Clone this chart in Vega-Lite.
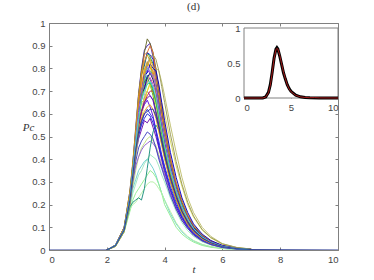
{
"$schema":"https://vega.github.io/schema/vega-lite/v6.json",
"width":289,"height":227,
"autosize":{"type":"none"},
"padding":{"left":49,"top":23,"right":36,"bottom":30},
"background":"white",
"config":{"view":{"stroke":"#808080","strokeWidth":1},"axis":{"grid":false,"domainColor":"#808080","tickColor":"#808080","labelColor":"#444444","labelFont":"Liberation Sans","labelFontSize":9.5,"labelExpr":"'' + datum.value"}},
"title":{"text":"(d)","font":"Liberation Serif","fontSize":11,"fontWeight":"normal","color":"#333333","offset":6},
"datasets":{
"frame":[{"x0":0,"x1":10,"y0":0,"y1":1}],
"mean":[{"t":0,"v":0},{"t":2,"v":0},{"t":2.3,"v":0.015},{"t":2.6,"v":0.08},{"t":2.8,"v":0.19},{"t":3,"v":0.37},{"t":3.2,"v":0.57},{"t":3.4,"v":0.7},{"t":3.5,"v":0.72},{"t":3.6,"v":0.7},{"t":3.8,"v":0.6},{"t":4,"v":0.48},{"t":4.2,"v":0.36},{"t":4.4,"v":0.27},{"t":4.6,"v":0.19},{"t":4.8,"v":0.135},{"t":5,"v":0.095},{"t":5.5,"v":0.04},{"t":6,"v":0.017},{"t":6.5,"v":0.007},{"t":7,"v":0.003},{"t":8,"v":0},{"t":10,"v":0}],
"red":[{"t":0,"v":0},{"t":2,"v":0},{"t":2.3,"v":0.012},{"t":2.6,"v":0.075},{"t":2.8,"v":0.18},{"t":3,"v":0.36},{"t":3.2,"v":0.56},{"t":3.4,"v":0.69},{"t":3.5,"v":0.71},{"t":3.6,"v":0.7},{"t":3.8,"v":0.61},{"t":4,"v":0.49},{"t":4.2,"v":0.37},{"t":4.4,"v":0.275},{"t":4.6,"v":0.19},{"t":4.8,"v":0.13},{"t":5,"v":0.09},{"t":5.5,"v":0.038},{"t":6,"v":0.016},{"t":6.5,"v":0.008},{"t":7,"v":0.004},{"t":7.5,"v":0.006},{"t":8,"v":0.002},{"t":10,"v":0}],
"main":[
{"s":"A","t":2,"v":0},{"s":"A","t":2.3,"v":0.021},{"s":"A","t":2.6,"v":0.097},{"s":"A","t":2.8,"v":0.25},{"s":"A","t":2.9,"v":0.36},{"s":"A","t":3,"v":0.51},{"s":"A","t":3.1,"v":0.64},{"s":"A","t":3.2,"v":0.77},{"s":"A","t":3.3,"v":0.81},{"s":"A","t":3.4,"v":0.87},{"s":"A","t":3.5,"v":0.85},{"s":"A","t":3.6,"v":0.82},{"s":"A","t":3.7,"v":0.78},{"s":"A","t":3.8,"v":0.66},{"s":"A","t":3.9,"v":0.6},{"s":"A","t":4,"v":0.49},{"s":"A","t":4.2,"v":0.38},{"s":"A","t":4.4,"v":0.26},{"s":"A","t":4.6,"v":0.2},{"s":"A","t":4.8,"v":0.135},{"s":"A","t":5,"v":0.1},{"s":"A","t":5.3,"v":0.058},{"s":"A","t":5.6,"v":0.037},{"s":"A","t":6,"v":0.017},{"s":"A","t":6.5,"v":0.007},{"s":"A","t":7,"v":0.002},
{"s":"B","t":2,"v":0},{"s":"B","t":2.3,"v":0.019},{"s":"B","t":2.6,"v":0.09},{"s":"B","t":2.8,"v":0.23},{"s":"B","t":2.9,"v":0.37},{"s":"B","t":3,"v":0.46},{"s":"B","t":3.1,"v":0.62},{"s":"B","t":3.2,"v":0.7},{"s":"B","t":3.3,"v":0.79},{"s":"B","t":3.4,"v":0.83},{"s":"B","t":3.5,"v":0.8},{"s":"B","t":3.6,"v":0.79},{"s":"B","t":3.7,"v":0.71},{"s":"B","t":3.8,"v":0.66},{"s":"B","t":3.9,"v":0.57},{"s":"B","t":4,"v":0.51},{"s":"B","t":4.2,"v":0.37},{"s":"B","t":4.4,"v":0.28},{"s":"B","t":4.6,"v":0.2},{"s":"B","t":4.8,"v":0.15},{"s":"B","t":5,"v":0.1},{"s":"B","t":5.3,"v":0.062},{"s":"B","t":5.6,"v":0.036},{"s":"B","t":6,"v":0.018},{"s":"B","t":6.5,"v":0.007},{"s":"B","t":7,"v":0.002},
{"s":"C","t":2,"v":0},{"s":"C","t":2.3,"v":0.02},{"s":"C","t":2.6,"v":0.093},{"s":"C","t":2.8,"v":0.24},{"s":"C","t":2.9,"v":0.35},{"s":"C","t":3,"v":0.5},{"s":"C","t":3.1,"v":0.59},{"s":"C","t":3.2,"v":0.69},{"s":"C","t":3.3,"v":0.72},{"s":"C","t":3.4,"v":0.77},{"s":"C","t":3.5,"v":0.75},{"s":"C","t":3.6,"v":0.71},{"s":"C","t":3.7,"v":0.66},{"s":"C","t":3.8,"v":0.57},{"s":"C","t":3.9,"v":0.52},{"s":"C","t":4,"v":0.44},{"s":"C","t":4.2,"v":0.33},{"s":"C","t":4.4,"v":0.25},{"s":"C","t":4.6,"v":0.17},{"s":"C","t":4.8,"v":0.125},{"s":"C","t":5,"v":0.088},{"s":"C","t":5.3,"v":0.052},{"s":"C","t":5.6,"v":0.032},{"s":"C","t":6,"v":0.015},{"s":"C","t":6.5,"v":0.006},{"s":"C","t":7,"v":0.002},
{"s":"D","t":2,"v":0},{"s":"D","t":2.3,"v":0.018},{"s":"D","t":2.6,"v":0.087},{"s":"D","t":2.8,"v":0.22},{"s":"D","t":2.9,"v":0.34},{"s":"D","t":3,"v":0.45},{"s":"D","t":3.1,"v":0.57},{"s":"D","t":3.2,"v":0.6},{"s":"D","t":3.3,"v":0.67},{"s":"D","t":3.4,"v":0.7},{"s":"D","t":3.5,"v":0.68},{"s":"D","t":3.6,"v":0.66},{"s":"D","t":3.7,"v":0.6},{"s":"D","t":3.8,"v":0.55},{"s":"D","t":3.9,"v":0.47},{"s":"D","t":4,"v":0.42},{"s":"D","t":4.2,"v":0.31},{"s":"D","t":4.4,"v":0.23},{"s":"D","t":4.6,"v":0.17},{"s":"D","t":4.8,"v":0.12},{"s":"D","t":5,"v":0.083},{"s":"D","t":5.3,"v":0.05},{"s":"D","t":5.6,"v":0.03},{"s":"D","t":6,"v":0.014},{"s":"D","t":6.5,"v":0.005},{"s":"D","t":7,"v":0.002},
{"s":"E","t":2,"v":0},{"s":"E","t":2.3,"v":0.02},{"s":"E","t":2.6,"v":0.088},{"s":"E","t":2.8,"v":0.21},{"s":"E","t":2.9,"v":0.32},{"s":"E","t":3,"v":0.42},{"s":"E","t":3.1,"v":0.49},{"s":"E","t":3.2,"v":0.53},{"s":"E","t":3.3,"v":0.57},{"s":"E","t":3.4,"v":0.56},{"s":"E","t":3.5,"v":0.58},{"s":"E","t":3.6,"v":0.54},{"s":"E","t":3.7,"v":0.5},{"s":"E","t":3.8,"v":0.45},{"s":"E","t":3.9,"v":0.4},{"s":"E","t":4,"v":0.34},{"s":"E","t":4.2,"v":0.26},{"s":"E","t":4.4,"v":0.19},{"s":"E","t":4.6,"v":0.14},{"s":"E","t":4.8,"v":0.1},{"s":"E","t":5,"v":0.07},{"s":"E","t":5.3,"v":0.042},{"s":"E","t":5.6,"v":0.026},{"s":"E","t":6,"v":0.012},{"s":"E","t":6.5,"v":0.005},{"s":"E","t":7,"v":0.002},
{"s":"F","t":2,"v":0},{"s":"F","t":2.3,"v":0.017},{"s":"F","t":2.6,"v":0.08},{"s":"F","t":2.8,"v":0.18},{"s":"F","t":2.9,"v":0.25},{"s":"F","t":3,"v":0.29},{"s":"F","t":3.1,"v":0.33},{"s":"F","t":3.2,"v":0.35},{"s":"F","t":3.3,"v":0.38},{"s":"F","t":3.4,"v":0.4},{"s":"F","t":3.5,"v":0.42},{"s":"F","t":3.6,"v":0.41},{"s":"F","t":3.7,"v":0.4},{"s":"F","t":3.8,"v":0.37},{"s":"F","t":3.9,"v":0.33},{"s":"F","t":4,"v":0.3},{"s":"F","t":4.2,"v":0.23},{"s":"F","t":4.4,"v":0.17},{"s":"F","t":4.6,"v":0.12},{"s":"F","t":4.8,"v":0.085},{"s":"F","t":5,"v":0.06},{"s":"F","t":5.3,"v":0.036},{"s":"F","t":5.6,"v":0.022},{"s":"F","t":6,"v":0.01},{"s":"F","t":6.5,"v":0.004},{"s":"F","t":7,"v":0.001},
{"s":"G","t":2,"v":0},{"s":"G","t":2.3,"v":0.016},{"s":"G","t":2.6,"v":0.08},{"s":"G","t":2.8,"v":0.2},{"s":"G","t":2.9,"v":0.3},{"s":"G","t":3,"v":0.41},{"s":"G","t":3.1,"v":0.5},{"s":"G","t":3.2,"v":0.58},{"s":"G","t":3.3,"v":0.65},{"s":"G","t":3.4,"v":0.7},{"s":"G","t":3.5,"v":0.74},{"s":"G","t":3.6,"v":0.75},{"s":"G","t":3.7,"v":0.73},{"s":"G","t":3.8,"v":0.7},{"s":"G","t":3.9,"v":0.65},{"s":"G","t":4,"v":0.6},{"s":"G","t":4.2,"v":0.48},{"s":"G","t":4.4,"v":0.37},{"s":"G","t":4.6,"v":0.28},{"s":"G","t":4.8,"v":0.2},{"s":"G","t":5,"v":0.145},{"s":"G","t":5.3,"v":0.088},{"s":"G","t":5.6,"v":0.053},{"s":"G","t":6,"v":0.025},{"s":"G","t":6.5,"v":0.01},{"s":"G","t":7,"v":0.003},
{"s":"H","t":2,"v":0},{"s":"H","t":2.3,"v":0.022},{"s":"H","t":2.6,"v":0.1},{"s":"H","t":2.8,"v":0.26},{"s":"H","t":2.9,"v":0.38},{"s":"H","t":3,"v":0.54},{"s":"H","t":3.1,"v":0.69},{"s":"H","t":3.2,"v":0.8},{"s":"H","t":3.3,"v":0.88},{"s":"H","t":3.4,"v":0.9},{"s":"H","t":3.5,"v":0.91},{"s":"H","t":3.6,"v":0.85},{"s":"H","t":3.7,"v":0.78},{"s":"H","t":3.8,"v":0.68},{"s":"H","t":3.9,"v":0.61},{"s":"H","t":4,"v":0.52},{"s":"H","t":4.2,"v":0.39},{"s":"H","t":4.4,"v":0.28},{"s":"H","t":4.6,"v":0.2},{"s":"H","t":4.8,"v":0.145},{"s":"H","t":5,"v":0.1},{"s":"H","t":5.3,"v":0.06},{"s":"H","t":5.6,"v":0.036},{"s":"H","t":6,"v":0.017},{"s":"H","t":6.5,"v":0.007},{"s":"H","t":7,"v":0.002},
{"s":"I","t":2,"v":0},{"s":"I","t":2.3,"v":0.02},{"s":"I","t":2.6,"v":0.092},{"s":"I","t":2.8,"v":0.24},{"s":"I","t":2.9,"v":0.36},{"s":"I","t":3,"v":0.49},{"s":"I","t":3.1,"v":0.63},{"s":"I","t":3.2,"v":0.73},{"s":"I","t":3.3,"v":0.78},{"s":"I","t":3.4,"v":0.82},{"s":"I","t":3.5,"v":0.81},{"s":"I","t":3.6,"v":0.76},{"s":"I","t":3.7,"v":0.72},{"s":"I","t":3.8,"v":0.63},{"s":"I","t":3.9,"v":0.57},{"s":"I","t":4,"v":0.48},{"s":"I","t":4.2,"v":0.36},{"s":"I","t":4.4,"v":0.26},{"s":"I","t":4.6,"v":0.19},{"s":"I","t":4.8,"v":0.135},{"s":"I","t":5,"v":0.095},{"s":"I","t":5.3,"v":0.057},{"s":"I","t":5.6,"v":0.034},{"s":"I","t":6,"v":0.016},{"s":"I","t":6.5,"v":0.006},{"s":"I","t":7,"v":0.002},
{"s":"J","t":2,"v":0},{"s":"J","t":2.3,"v":0.02},{"s":"J","t":2.6,"v":0.09},{"s":"J","t":2.8,"v":0.22},{"s":"J","t":2.9,"v":0.32},{"s":"J","t":3,"v":0.43},{"s":"J","t":3.1,"v":0.5},{"s":"J","t":3.2,"v":0.56},{"s":"J","t":3.3,"v":0.6},{"s":"J","t":3.4,"v":0.62},{"s":"J","t":3.5,"v":0.6},{"s":"J","t":3.6,"v":0.58},{"s":"J","t":3.7,"v":0.53},{"s":"J","t":3.8,"v":0.48},{"s":"J","t":3.9,"v":0.42},{"s":"J","t":4,"v":0.37},{"s":"J","t":4.2,"v":0.28},{"s":"J","t":4.4,"v":0.21},{"s":"J","t":4.6,"v":0.15},{"s":"J","t":4.8,"v":0.11},{"s":"J","t":5,"v":0.077},{"s":"J","t":5.3,"v":0.046},{"s":"J","t":5.6,"v":0.028},{"s":"J","t":6,"v":0.013},{"s":"J","t":6.5,"v":0.005},{"s":"J","t":7,"v":0.002},
{"s":"K","t":2,"v":0},{"s":"K","t":2.3,"v":0.02},{"s":"K","t":2.6,"v":0.09},{"s":"K","t":2.8,"v":0.23},{"s":"K","t":2.9,"v":0.35},{"s":"K","t":3,"v":0.47},{"s":"K","t":3.1,"v":0.6},{"s":"K","t":3.2,"v":0.66},{"s":"K","t":3.3,"v":0.72},{"s":"K","t":3.4,"v":0.74},{"s":"K","t":3.5,"v":0.76},{"s":"K","t":3.6,"v":0.73},{"s":"K","t":3.7,"v":0.69},{"s":"K","t":3.8,"v":0.61},{"s":"K","t":3.9,"v":0.55},{"s":"K","t":4,"v":0.47},{"s":"K","t":4.2,"v":0.35},{"s":"K","t":4.4,"v":0.26},{"s":"K","t":4.6,"v":0.19},{"s":"K","t":4.8,"v":0.135},{"s":"K","t":5,"v":0.095},{"s":"K","t":5.3,"v":0.057},{"s":"K","t":5.6,"v":0.034},{"s":"K","t":6,"v":0.016},{"s":"K","t":6.5,"v":0.006},{"s":"K","t":7,"v":0.002},
{"s":"L","t":2,"v":0},{"s":"L","t":2.3,"v":0.018},{"s":"L","t":2.6,"v":0.085},{"s":"L","t":2.8,"v":0.2},{"s":"L","t":2.9,"v":0.28},{"s":"L","t":3,"v":0.35},{"s":"L","t":3.1,"v":0.41},{"s":"L","t":3.2,"v":0.45},{"s":"L","t":3.3,"v":0.47},{"s":"L","t":3.4,"v":0.49},{"s":"L","t":3.5,"v":0.5},{"s":"L","t":3.6,"v":0.48},{"s":"L","t":3.7,"v":0.46},{"s":"L","t":3.8,"v":0.42},{"s":"L","t":3.9,"v":0.38},{"s":"L","t":4,"v":0.33},{"s":"L","t":4.2,"v":0.25},{"s":"L","t":4.4,"v":0.18},{"s":"L","t":4.6,"v":0.13},{"s":"L","t":4.8,"v":0.095},{"s":"L","t":5,"v":0.066},{"s":"L","t":5.3,"v":0.04},{"s":"L","t":5.6,"v":0.024},{"s":"L","t":6,"v":0.011},{"s":"L","t":6.5,"v":0.004},{"s":"L","t":7,"v":0.001},
{"s":"M","t":2,"v":0},{"s":"M","t":2.3,"v":0.02},{"s":"M","t":2.6,"v":0.09},{"s":"M","t":2.8,"v":0.23},{"s":"M","t":2.9,"v":0.35},{"s":"M","t":3,"v":0.48},{"s":"M","t":3.1,"v":0.6},{"s":"M","t":3.2,"v":0.7},{"s":"M","t":3.3,"v":0.74},{"s":"M","t":3.4,"v":0.8},{"s":"M","t":3.5,"v":0.79},{"s":"M","t":3.6,"v":0.77},{"s":"M","t":3.7,"v":0.7},{"s":"M","t":3.8,"v":0.64},{"s":"M","t":3.9,"v":0.56},{"s":"M","t":4,"v":0.5},{"s":"M","t":4.2,"v":0.37},{"s":"M","t":4.4,"v":0.27},{"s":"M","t":4.6,"v":0.2},{"s":"M","t":4.8,"v":0.14},{"s":"M","t":5,"v":0.1},{"s":"M","t":5.3,"v":0.06},{"s":"M","t":5.6,"v":0.036},{"s":"M","t":6,"v":0.017},{"s":"M","t":6.5,"v":0.007},{"s":"M","t":7,"v":0.002},
{"s":"N","t":2,"v":0},{"s":"N","t":2.3,"v":0.019},{"s":"N","t":2.6,"v":0.088},{"s":"N","t":2.8,"v":0.2},{"s":"N","t":2.9,"v":0.27},{"s":"N","t":3,"v":0.31},{"s":"N","t":3.1,"v":0.35},{"s":"N","t":3.2,"v":0.37},{"s":"N","t":3.3,"v":0.39},{"s":"N","t":3.4,"v":0.4},{"s":"N","t":3.5,"v":0.38},{"s":"N","t":3.6,"v":0.36},{"s":"N","t":3.7,"v":0.33},{"s":"N","t":3.8,"v":0.29},{"s":"N","t":3.9,"v":0.25},{"s":"N","t":4,"v":0.22},{"s":"N","t":4.2,"v":0.16},{"s":"N","t":4.4,"v":0.115},{"s":"N","t":4.6,"v":0.08},{"s":"N","t":4.8,"v":0.057},{"s":"N","t":5,"v":0.04},{"s":"N","t":5.3,"v":0.024},{"s":"N","t":5.6,"v":0.014},{"s":"N","t":6,"v":0.007},{"s":"N","t":6.5,"v":0.003},{"s":"N","t":7,"v":0.001},
{"s":"a","t":2,"v":0},{"s":"a","t":2.3,"v":0.02},{"s":"a","t":2.6,"v":0.095},{"s":"a","t":2.8,"v":0.24},{"s":"a","t":2.9,"v":0.37},{"s":"a","t":3,"v":0.5},{"s":"a","t":3.1,"v":0.64},{"s":"a","t":3.2,"v":0.78},{"s":"a","t":3.3,"v":0.82},{"s":"a","t":3.4,"v":0.87},{"s":"a","t":3.5,"v":0.86},{"s":"a","t":3.6,"v":0.84},{"s":"a","t":3.7,"v":0.74},{"s":"a","t":3.8,"v":0.67},{"s":"a","t":3.9,"v":0.58},{"s":"a","t":4,"v":0.5},{"s":"a","t":4.2,"v":0.37},{"s":"a","t":4.4,"v":0.27},{"s":"a","t":4.6,"v":0.19},{"s":"a","t":4.8,"v":0.14},{"s":"a","t":5,"v":0.1},{"s":"a","t":5.3,"v":0.06},{"s":"a","t":5.6,"v":0.036},{"s":"a","t":6,"v":0.018},{"s":"a","t":6.5,"v":0.007},{"s":"a","t":7,"v":0.002},
{"s":"b","t":2,"v":0},{"s":"b","t":2.3,"v":0.02},{"s":"b","t":2.6,"v":0.09},{"s":"b","t":2.8,"v":0.23},{"s":"b","t":2.9,"v":0.35},{"s":"b","t":3,"v":0.48},{"s":"b","t":3.1,"v":0.63},{"s":"b","t":3.2,"v":0.72},{"s":"b","t":3.3,"v":0.8},{"s":"b","t":3.4,"v":0.81},{"s":"b","t":3.5,"v":0.84},{"s":"b","t":3.6,"v":0.81},{"s":"b","t":3.7,"v":0.75},{"s":"b","t":3.8,"v":0.68},{"s":"b","t":3.9,"v":0.59},{"s":"b","t":4,"v":0.52},{"s":"b","t":4.2,"v":0.39},{"s":"b","t":4.4,"v":0.29},{"s":"b","t":4.6,"v":0.21},{"s":"b","t":4.8,"v":0.15},{"s":"b","t":5,"v":0.105},{"s":"b","t":5.3,"v":0.063},{"s":"b","t":5.6,"v":0.038},{"s":"b","t":6,"v":0.018},{"s":"b","t":6.5,"v":0.008},{"s":"b","t":7,"v":0.003},
{"s":"c","t":2,"v":0},{"s":"c","t":2.3,"v":0.018},{"s":"c","t":2.6,"v":0.088},{"s":"c","t":2.8,"v":0.22},{"s":"c","t":2.9,"v":0.34},{"s":"c","t":3,"v":0.47},{"s":"c","t":3.1,"v":0.6},{"s":"c","t":3.2,"v":0.68},{"s":"c","t":3.3,"v":0.77},{"s":"c","t":3.4,"v":0.79},{"s":"c","t":3.5,"v":0.78},{"s":"c","t":3.6,"v":0.77},{"s":"c","t":3.7,"v":0.7},{"s":"c","t":3.8,"v":0.63},{"s":"c","t":3.9,"v":0.55},{"s":"c","t":4,"v":0.47},{"s":"c","t":4.2,"v":0.35},{"s":"c","t":4.4,"v":0.25},{"s":"c","t":4.6,"v":0.18},{"s":"c","t":4.8,"v":0.13},{"s":"c","t":5,"v":0.09},{"s":"c","t":5.3,"v":0.055},{"s":"c","t":5.6,"v":0.033},{"s":"c","t":6,"v":0.016},{"s":"c","t":6.5,"v":0.006},{"s":"c","t":7,"v":0.002},
{"s":"d","t":2,"v":0},{"s":"d","t":2.3,"v":0.02},{"s":"d","t":2.6,"v":0.09},{"s":"d","t":2.8,"v":0.24},{"s":"d","t":2.9,"v":0.36},{"s":"d","t":3,"v":0.49},{"s":"d","t":3.1,"v":0.62},{"s":"d","t":3.2,"v":0.7},{"s":"d","t":3.3,"v":0.74},{"s":"d","t":3.4,"v":0.76},{"s":"d","t":3.5,"v":0.73},{"s":"d","t":3.6,"v":0.68},{"s":"d","t":3.7,"v":0.61},{"s":"d","t":3.8,"v":0.54},{"s":"d","t":3.9,"v":0.47},{"s":"d","t":4,"v":0.41},{"s":"d","t":4.2,"v":0.3},{"s":"d","t":4.4,"v":0.22},{"s":"d","t":4.6,"v":0.16},{"s":"d","t":4.8,"v":0.115},{"s":"d","t":5,"v":0.08},{"s":"d","t":5.3,"v":0.05},{"s":"d","t":5.6,"v":0.03},{"s":"d","t":6,"v":0.014},{"s":"d","t":6.5,"v":0.006},{"s":"d","t":7,"v":0.002},
{"s":"e","t":2,"v":0},{"s":"e","t":2.3,"v":0.018},{"s":"e","t":2.6,"v":0.085},{"s":"e","t":2.8,"v":0.21},{"s":"e","t":2.9,"v":0.33},{"s":"e","t":3,"v":0.45},{"s":"e","t":3.1,"v":0.56},{"s":"e","t":3.2,"v":0.65},{"s":"e","t":3.3,"v":0.66},{"s":"e","t":3.4,"v":0.7},{"s":"e","t":3.5,"v":0.73},{"s":"e","t":3.6,"v":0.69},{"s":"e","t":3.7,"v":0.64},{"s":"e","t":3.8,"v":0.58},{"s":"e","t":3.9,"v":0.51},{"s":"e","t":4,"v":0.44},{"s":"e","t":4.2,"v":0.33},{"s":"e","t":4.4,"v":0.245},{"s":"e","t":4.6,"v":0.18},{"s":"e","t":4.8,"v":0.125},{"s":"e","t":5,"v":0.09},{"s":"e","t":5.3,"v":0.054},{"s":"e","t":5.6,"v":0.032},{"s":"e","t":6,"v":0.016},{"s":"e","t":6.5,"v":0.006},{"s":"e","t":7,"v":0.002},
{"s":"f","t":2,"v":0},{"s":"f","t":2.3,"v":0.02},{"s":"f","t":2.6,"v":0.09},{"s":"f","t":2.8,"v":0.22},{"s":"f","t":2.9,"v":0.33},{"s":"f","t":3,"v":0.45},{"s":"f","t":3.1,"v":0.55},{"s":"f","t":3.2,"v":0.61},{"s":"f","t":3.3,"v":0.64},{"s":"f","t":3.4,"v":0.66},{"s":"f","t":3.5,"v":0.63},{"s":"f","t":3.6,"v":0.59},{"s":"f","t":3.7,"v":0.53},{"s":"f","t":3.8,"v":0.46},{"s":"f","t":3.9,"v":0.4},{"s":"f","t":4,"v":0.35},{"s":"f","t":4.2,"v":0.26},{"s":"f","t":4.4,"v":0.19},{"s":"f","t":4.6,"v":0.14},{"s":"f","t":4.8,"v":0.1},{"s":"f","t":5,"v":0.07},{"s":"f","t":5.3,"v":0.043},{"s":"f","t":5.6,"v":0.026},{"s":"f","t":6,"v":0.012},{"s":"f","t":6.5,"v":0.005},{"s":"f","t":7,"v":0.002},
{"s":"g","t":2,"v":0},{"s":"g","t":2.3,"v":0.015},{"s":"g","t":2.6,"v":0.08},{"s":"g","t":2.8,"v":0.2},{"s":"g","t":2.9,"v":0.31},{"s":"g","t":3,"v":0.42},{"s":"g","t":3.1,"v":0.52},{"s":"g","t":3.2,"v":0.61},{"s":"g","t":3.3,"v":0.68},{"s":"g","t":3.4,"v":0.74},{"s":"g","t":3.5,"v":0.78},{"s":"g","t":3.6,"v":0.8},{"s":"g","t":3.7,"v":0.8},{"s":"g","t":3.8,"v":0.79},{"s":"g","t":3.9,"v":0.74},{"s":"g","t":4,"v":0.68},{"s":"g","t":4.2,"v":0.55},{"s":"g","t":4.4,"v":0.43},{"s":"g","t":4.6,"v":0.32},{"s":"g","t":4.8,"v":0.23},{"s":"g","t":5,"v":0.165},{"s":"g","t":5.3,"v":0.1},{"s":"g","t":5.6,"v":0.06},{"s":"g","t":6,"v":0.028},{"s":"g","t":6.5,"v":0.011},{"s":"g","t":7,"v":0.004},
{"s":"h","t":2,"v":0},{"s":"h","t":2.3,"v":0.02},{"s":"h","t":2.6,"v":0.1},{"s":"h","t":2.8,"v":0.25},{"s":"h","t":2.9,"v":0.38},{"s":"h","t":3,"v":0.52},{"s":"h","t":3.1,"v":0.68},{"s":"h","t":3.2,"v":0.79},{"s":"h","t":3.3,"v":0.87},{"s":"h","t":3.4,"v":0.93},{"s":"h","t":3.5,"v":0.91},{"s":"h","t":3.6,"v":0.87},{"s":"h","t":3.7,"v":0.8},{"s":"h","t":3.8,"v":0.71},{"s":"h","t":3.9,"v":0.62},{"s":"h","t":4,"v":0.54},{"s":"h","t":4.2,"v":0.4},{"s":"h","t":4.4,"v":0.29},{"s":"h","t":4.6,"v":0.21},{"s":"h","t":4.8,"v":0.15},{"s":"h","t":5,"v":0.105},{"s":"h","t":5.3,"v":0.063},{"s":"h","t":5.6,"v":0.038},{"s":"h","t":6,"v":0.018},{"s":"h","t":6.5,"v":0.007},{"s":"h","t":7,"v":0.002},
{"s":"i","t":2,"v":0},{"s":"i","t":2.3,"v":0.02},{"s":"i","t":2.6,"v":0.09},{"s":"i","t":2.8,"v":0.23},{"s":"i","t":2.9,"v":0.35},{"s":"i","t":3,"v":0.49},{"s":"i","t":3.1,"v":0.65},{"s":"i","t":3.2,"v":0.76},{"s":"i","t":3.3,"v":0.86},{"s":"i","t":3.4,"v":0.87},{"s":"i","t":3.5,"v":0.9},{"s":"i","t":3.6,"v":0.87},{"s":"i","t":3.7,"v":0.78},{"s":"i","t":3.8,"v":0.72},{"s":"i","t":3.9,"v":0.63},{"s":"i","t":4,"v":0.55},{"s":"i","t":4.2,"v":0.41},{"s":"i","t":4.4,"v":0.3},{"s":"i","t":4.6,"v":0.22},{"s":"i","t":4.8,"v":0.155},{"s":"i","t":5,"v":0.11},{"s":"i","t":5.3,"v":0.067},{"s":"i","t":5.6,"v":0.04},{"s":"i","t":6,"v":0.02},{"s":"i","t":6.5,"v":0.008},{"s":"i","t":7,"v":0.003},
{"s":"j","t":2,"v":0},{"s":"j","t":2.3,"v":0.017},{"s":"j","t":2.6,"v":0.085},{"s":"j","t":2.8,"v":0.21},{"s":"j","t":2.9,"v":0.32},{"s":"j","t":3,"v":0.44},{"s":"j","t":3.1,"v":0.54},{"s":"j","t":3.2,"v":0.61},{"s":"j","t":3.3,"v":0.65},{"s":"j","t":3.4,"v":0.68},{"s":"j","t":3.5,"v":0.7},{"s":"j","t":3.6,"v":0.7},{"s":"j","t":3.7,"v":0.66},{"s":"j","t":3.8,"v":0.6},{"s":"j","t":3.9,"v":0.53},{"s":"j","t":4,"v":0.46},{"s":"j","t":4.2,"v":0.35},{"s":"j","t":4.4,"v":0.26},{"s":"j","t":4.6,"v":0.19},{"s":"j","t":4.8,"v":0.135},{"s":"j","t":5,"v":0.095},{"s":"j","t":5.3,"v":0.057},{"s":"j","t":5.6,"v":0.034},{"s":"j","t":6,"v":0.016},{"s":"j","t":6.5,"v":0.006},{"s":"j","t":7,"v":0.002},
{"s":"k","t":2,"v":0},{"s":"k","t":2.3,"v":0.02},{"s":"k","t":2.6,"v":0.09},{"s":"k","t":2.8,"v":0.23},{"s":"k","t":2.9,"v":0.35},{"s":"k","t":3,"v":0.47},{"s":"k","t":3.1,"v":0.58},{"s":"k","t":3.2,"v":0.66},{"s":"k","t":3.3,"v":0.71},{"s":"k","t":3.4,"v":0.73},{"s":"k","t":3.5,"v":0.74},{"s":"k","t":3.6,"v":0.7},{"s":"k","t":3.7,"v":0.65},{"s":"k","t":3.8,"v":0.58},{"s":"k","t":3.9,"v":0.51},{"s":"k","t":4,"v":0.44},{"s":"k","t":4.2,"v":0.33},{"s":"k","t":4.4,"v":0.24},{"s":"k","t":4.6,"v":0.17},{"s":"k","t":4.8,"v":0.125},{"s":"k","t":5,"v":0.088},{"s":"k","t":5.3,"v":0.053},{"s":"k","t":5.6,"v":0.032},{"s":"k","t":6,"v":0.015},{"s":"k","t":6.5,"v":0.006},{"s":"k","t":7,"v":0.002},
{"s":"l","t":2,"v":0},{"s":"l","t":2.3,"v":0.017},{"s":"l","t":2.6,"v":0.08},{"s":"l","t":2.8,"v":0.17},{"s":"l","t":2.9,"v":0.22},{"s":"l","t":3,"v":0.25},{"s":"l","t":3.1,"v":0.27},{"s":"l","t":3.2,"v":0.29},{"s":"l","t":3.3,"v":0.31},{"s":"l","t":3.4,"v":0.33},{"s":"l","t":3.5,"v":0.35},{"s":"l","t":3.6,"v":0.34},{"s":"l","t":3.7,"v":0.32},{"s":"l","t":3.8,"v":0.29},{"s":"l","t":3.9,"v":0.25},{"s":"l","t":4,"v":0.2},{"s":"l","t":4.2,"v":0.15},{"s":"l","t":4.4,"v":0.1},{"s":"l","t":4.6,"v":0.07},{"s":"l","t":4.8,"v":0.05},{"s":"l","t":5,"v":0.035},{"s":"l","t":5.3,"v":0.02},{"s":"l","t":5.6,"v":0.012},{"s":"l","t":6,"v":0.006},{"s":"l","t":6.5,"v":0.002},{"s":"l","t":7,"v":0.001},
{"s":"m","t":2,"v":0},{"s":"m","t":2.3,"v":0.018},{"s":"m","t":2.6,"v":0.085},{"s":"m","t":2.8,"v":0.18},{"s":"m","t":2.9,"v":0.2},{"s":"m","t":3,"v":0.21},{"s":"m","t":3.1,"v":0.23},{"s":"m","t":3.2,"v":0.25},{"s":"m","t":3.3,"v":0.27},{"s":"m","t":3.4,"v":0.29},{"s":"m","t":3.5,"v":0.3},{"s":"m","t":3.6,"v":0.3},{"s":"m","t":3.7,"v":0.29},{"s":"m","t":3.8,"v":0.27},{"s":"m","t":3.9,"v":0.25},{"s":"m","t":4,"v":0.22},{"s":"m","t":4.2,"v":0.17},{"s":"m","t":4.4,"v":0.12},{"s":"m","t":4.6,"v":0.085},{"s":"m","t":4.8,"v":0.06},{"s":"m","t":5,"v":0.042},{"s":"m","t":5.3,"v":0.025},{"s":"m","t":5.6,"v":0.015},{"s":"m","t":6,"v":0.007},{"s":"m","t":6.5,"v":0.003},{"s":"m","t":7,"v":0.001},
{"s":"n","t":2,"v":0},{"s":"n","t":2.3,"v":0.02},{"s":"n","t":2.6,"v":0.09},{"s":"n","t":2.8,"v":0.21},{"s":"n","t":2.9,"v":0.3},{"s":"n","t":3,"v":0.37},{"s":"n","t":3.1,"v":0.41},{"s":"n","t":3.2,"v":0.44},{"s":"n","t":3.3,"v":0.46},{"s":"n","t":3.4,"v":0.47},{"s":"n","t":3.5,"v":0.48},{"s":"n","t":3.6,"v":0.47},{"s":"n","t":3.7,"v":0.45},{"s":"n","t":3.8,"v":0.41},{"s":"n","t":3.9,"v":0.37},{"s":"n","t":4,"v":0.33},{"s":"n","t":4.2,"v":0.25},{"s":"n","t":4.4,"v":0.18},{"s":"n","t":4.6,"v":0.13},{"s":"n","t":4.8,"v":0.095},{"s":"n","t":5,"v":0.066},{"s":"n","t":5.3,"v":0.04},{"s":"n","t":5.6,"v":0.024},{"s":"n","t":6,"v":0.011},{"s":"n","t":6.5,"v":0.004},{"s":"n","t":7,"v":0.001},
{"s":"o","t":2,"v":0},{"s":"o","t":2.3,"v":0.018},{"s":"o","t":2.6,"v":0.085},{"s":"o","t":2.8,"v":0.19},{"s":"o","t":2.9,"v":0.21},{"s":"o","t":3,"v":0.22},{"s":"o","t":3.1,"v":0.23},{"s":"o","t":3.2,"v":0.22},{"s":"o","t":3.3,"v":0.27},{"s":"o","t":3.4,"v":0.36},{"s":"o","t":3.5,"v":0.45},{"s":"o","t":3.6,"v":0.52},{"s":"o","t":3.7,"v":0.55},{"s":"o","t":3.8,"v":0.53},{"s":"o","t":3.9,"v":0.49},{"s":"o","t":4,"v":0.44},{"s":"o","t":4.2,"v":0.34},{"s":"o","t":4.4,"v":0.25},{"s":"o","t":4.6,"v":0.18},{"s":"o","t":4.8,"v":0.13},{"s":"o","t":5,"v":0.09},{"s":"o","t":5.3,"v":0.055},{"s":"o","t":5.6,"v":0.033},{"s":"o","t":6,"v":0.016},{"s":"o","t":6.5,"v":0.006},{"s":"o","t":7,"v":0.002},
{"s":"p","t":2,"v":0},{"s":"p","t":2.3,"v":0.02},{"s":"p","t":2.6,"v":0.09},{"s":"p","t":2.8,"v":0.23},{"s":"p","t":2.9,"v":0.35},{"s":"p","t":3,"v":0.47},{"s":"p","t":3.1,"v":0.6},{"s":"p","t":3.2,"v":0.69},{"s":"p","t":3.3,"v":0.77},{"s":"p","t":3.4,"v":0.78},{"s":"p","t":3.5,"v":0.82},{"s":"p","t":3.6,"v":0.8},{"s":"p","t":3.7,"v":0.79},{"s":"p","t":3.8,"v":0.73},{"s":"p","t":3.9,"v":0.65},{"s":"p","t":4,"v":0.57},{"s":"p","t":4.2,"v":0.43},{"s":"p","t":4.4,"v":0.32},{"s":"p","t":4.6,"v":0.23},{"s":"p","t":4.8,"v":0.165},{"s":"p","t":5,"v":0.115},{"s":"p","t":5.3,"v":0.07},{"s":"p","t":5.6,"v":0.042},{"s":"p","t":6,"v":0.02},{"s":"p","t":6.5,"v":0.008},{"s":"p","t":7,"v":0.003},
{"s":"q","t":2,"v":0},{"s":"q","t":2.3,"v":0.022},{"s":"q","t":2.6,"v":0.1},{"s":"q","t":2.8,"v":0.26},{"s":"q","t":2.9,"v":0.39},{"s":"q","t":3,"v":0.53},{"s":"q","t":3.1,"v":0.68},{"s":"q","t":3.2,"v":0.78},{"s":"q","t":3.3,"v":0.83},{"s":"q","t":3.4,"v":0.86},{"s":"q","t":3.5,"v":0.83},{"s":"q","t":3.6,"v":0.77},{"s":"q","t":3.7,"v":0.69},{"s":"q","t":3.8,"v":0.6},{"s":"q","t":3.9,"v":0.53},{"s":"q","t":4,"v":0.46},{"s":"q","t":4.2,"v":0.34},{"s":"q","t":4.4,"v":0.25},{"s":"q","t":4.6,"v":0.18},{"s":"q","t":4.8,"v":0.13},{"s":"q","t":5,"v":0.092},{"s":"q","t":5.3,"v":0.056},{"s":"q","t":5.6,"v":0.034},{"s":"q","t":6,"v":0.016},{"s":"q","t":6.5,"v":0.007},{"s":"q","t":7,"v":0.002},
{"s":"r","t":2,"v":0},{"s":"r","t":2.3,"v":0.02},{"s":"r","t":2.6,"v":0.09},{"s":"r","t":2.8,"v":0.22},{"s":"r","t":2.9,"v":0.34},{"s":"r","t":3,"v":0.46},{"s":"r","t":3.1,"v":0.55},{"s":"r","t":3.2,"v":0.61},{"s":"r","t":3.3,"v":0.65},{"s":"r","t":3.4,"v":0.67},{"s":"r","t":3.5,"v":0.68},{"s":"r","t":3.6,"v":0.66},{"s":"r","t":3.7,"v":0.61},{"s":"r","t":3.8,"v":0.55},{"s":"r","t":3.9,"v":0.48},{"s":"r","t":4,"v":0.42},{"s":"r","t":4.2,"v":0.31},{"s":"r","t":4.4,"v":0.23},{"s":"r","t":4.6,"v":0.17},{"s":"r","t":4.8,"v":0.12},{"s":"r","t":5,"v":0.085},{"s":"r","t":5.3,"v":0.051},{"s":"r","t":5.6,"v":0.031},{"s":"r","t":6,"v":0.015},{"s":"r","t":6.5,"v":0.006},{"s":"r","t":7,"v":0.002},
{"s":"s","t":2,"v":0},{"s":"s","t":2.3,"v":0.02},{"s":"s","t":2.6,"v":0.09},{"s":"s","t":2.8,"v":0.22},{"s":"s","t":2.9,"v":0.33},{"s":"s","t":3,"v":0.44},{"s":"s","t":3.1,"v":0.51},{"s":"s","t":3.2,"v":0.55},{"s":"s","t":3.3,"v":0.58},{"s":"s","t":3.4,"v":0.6},{"s":"s","t":3.5,"v":0.59},{"s":"s","t":3.6,"v":0.56},{"s":"s","t":3.7,"v":0.52},{"s":"s","t":3.8,"v":0.46},{"s":"s","t":3.9,"v":0.41},{"s":"s","t":4,"v":0.36},{"s":"s","t":4.2,"v":0.27},{"s":"s","t":4.4,"v":0.2},{"s":"s","t":4.6,"v":0.145},{"s":"s","t":4.8,"v":0.105},{"s":"s","t":5,"v":0.073},{"s":"s","t":5.3,"v":0.044},{"s":"s","t":5.6,"v":0.027},{"s":"s","t":6,"v":0.013},{"s":"s","t":6.5,"v":0.005},{"s":"s","t":7,"v":0.002},
{"s":"t","t":2,"v":0},{"s":"t","t":2.3,"v":0.02},{"s":"t","t":2.6,"v":0.09},{"s":"t","t":2.8,"v":0.23},{"s":"t","t":2.9,"v":0.35},{"s":"t","t":3,"v":0.47},{"s":"t","t":3.1,"v":0.59},{"s":"t","t":3.2,"v":0.69},{"s":"t","t":3.3,"v":0.71},{"s":"t","t":3.4,"v":0.76},{"s":"t","t":3.5,"v":0.78},{"s":"t","t":3.6,"v":0.75},{"s":"t","t":3.7,"v":0.71},{"s":"t","t":3.8,"v":0.63},{"s":"t","t":3.9,"v":0.55},{"s":"t","t":4,"v":0.48},{"s":"t","t":4.2,"v":0.36},{"s":"t","t":4.4,"v":0.27},{"s":"t","t":4.6,"v":0.19},{"s":"t","t":4.8,"v":0.14},{"s":"t","t":5,"v":0.098},{"s":"t","t":5.3,"v":0.059},{"s":"t","t":5.6,"v":0.035},{"s":"t","t":6,"v":0.017},{"s":"t","t":6.5,"v":0.007},{"s":"t","t":7,"v":0.002},
{"s":"u","t":2,"v":0},{"s":"u","t":2.3,"v":0.019},{"s":"u","t":2.6,"v":0.088},{"s":"u","t":2.8,"v":0.22},{"s":"u","t":2.9,"v":0.33},{"s":"u","t":3,"v":0.44},{"s":"u","t":3.1,"v":0.52},{"s":"u","t":3.2,"v":0.58},{"s":"u","t":3.3,"v":0.61},{"s":"u","t":3.4,"v":0.63},{"s":"u","t":3.5,"v":0.64},{"s":"u","t":3.6,"v":0.62},{"s":"u","t":3.7,"v":0.58},{"s":"u","t":3.8,"v":0.52},{"s":"u","t":3.9,"v":0.46},{"s":"u","t":4,"v":0.4},{"s":"u","t":4.2,"v":0.3},{"s":"u","t":4.4,"v":0.22},{"s":"u","t":4.6,"v":0.16},{"s":"u","t":4.8,"v":0.112},{"s":"u","t":5,"v":0.08},{"s":"u","t":5.3,"v":0.048},{"s":"u","t":5.6,"v":0.029},{"s":"u","t":6,"v":0.014},{"s":"u","t":6.5,"v":0.006},{"s":"u","t":7,"v":0.002},
{"s":"v","t":2,"v":0},{"s":"v","t":2.3,"v":0.02},{"s":"v","t":2.6,"v":0.092},{"s":"v","t":2.8,"v":0.23},{"s":"v","t":2.9,"v":0.35},{"s":"v","t":3,"v":0.48},{"s":"v","t":3.1,"v":0.61},{"s":"v","t":3.2,"v":0.7},{"s":"v","t":3.3,"v":0.76},{"s":"v","t":3.4,"v":0.81},{"s":"v","t":3.5,"v":0.78},{"s":"v","t":3.6,"v":0.77},{"s":"v","t":3.7,"v":0.71},{"s":"v","t":3.8,"v":0.63},{"s":"v","t":3.9,"v":0.56},{"s":"v","t":4,"v":0.49},{"s":"v","t":4.2,"v":0.36},{"s":"v","t":4.4,"v":0.27},{"s":"v","t":4.6,"v":0.19},{"s":"v","t":4.8,"v":0.14},{"s":"v","t":5,"v":0.095},{"s":"v","t":5.3,"v":0.058},{"s":"v","t":5.6,"v":0.035},{"s":"v","t":6,"v":0.017},{"s":"v","t":6.5,"v":0.007},{"s":"v","t":7,"v":0.002},
{"s":"w","t":2,"v":0},{"s":"w","t":2.3,"v":0.02},{"s":"w","t":2.6,"v":0.09},{"s":"w","t":2.8,"v":0.21},{"s":"w","t":2.9,"v":0.31},{"s":"w","t":3,"v":0.39},{"s":"w","t":3.1,"v":0.45},{"s":"w","t":3.2,"v":0.48},{"s":"w","t":3.3,"v":0.5},{"s":"w","t":3.4,"v":0.52},{"s":"w","t":3.5,"v":0.51},{"s":"w","t":3.6,"v":0.49},{"s":"w","t":3.7,"v":0.45},{"s":"w","t":3.8,"v":0.4},{"s":"w","t":3.9,"v":0.36},{"s":"w","t":4,"v":0.32},{"s":"w","t":4.2,"v":0.24},{"s":"w","t":4.4,"v":0.18},{"s":"w","t":4.6,"v":0.13},{"s":"w","t":4.8,"v":0.095},{"s":"w","t":5,"v":0.066},{"s":"w","t":5.3,"v":0.04},{"s":"w","t":5.6,"v":0.024},{"s":"w","t":6,"v":0.011},{"s":"w","t":6.5,"v":0.004},{"s":"w","t":7,"v":0.001},
{"s":"x","t":2,"v":0},{"s":"x","t":2.3,"v":0.016},{"s":"x","t":2.6,"v":0.08},{"s":"x","t":2.8,"v":0.2},{"s":"x","t":2.9,"v":0.31},{"s":"x","t":3,"v":0.43},{"s":"x","t":3.1,"v":0.56},{"s":"x","t":3.2,"v":0.67},{"s":"x","t":3.3,"v":0.76},{"s":"x","t":3.4,"v":0.82},{"s":"x","t":3.5,"v":0.85},{"s":"x","t":3.6,"v":0.86},{"s":"x","t":3.7,"v":0.84},{"s":"x","t":3.8,"v":0.79},{"s":"x","t":3.9,"v":0.72},{"s":"x","t":4,"v":0.65},{"s":"x","t":4.2,"v":0.51},{"s":"x","t":4.4,"v":0.39},{"s":"x","t":4.6,"v":0.29},{"s":"x","t":4.8,"v":0.21},{"s":"x","t":5,"v":0.15},{"s":"x","t":5.3,"v":0.09},{"s":"x","t":5.6,"v":0.055},{"s":"x","t":6,"v":0.027},{"s":"x","t":6.5,"v":0.011},{"s":"x","t":7,"v":0.004},
{"s":"y","t":2,"v":0},{"s":"y","t":2.3,"v":0.02},{"s":"y","t":2.6,"v":0.09},{"s":"y","t":2.8,"v":0.23},{"s":"y","t":2.9,"v":0.35},{"s":"y","t":3,"v":0.47},{"s":"y","t":3.1,"v":0.58},{"s":"y","t":3.2,"v":0.66},{"s":"y","t":3.3,"v":0.7},{"s":"y","t":3.4,"v":0.73},{"s":"y","t":3.5,"v":0.74},{"s":"y","t":3.6,"v":0.72},{"s":"y","t":3.7,"v":0.67},{"s":"y","t":3.8,"v":0.6},{"s":"y","t":3.9,"v":0.53},{"s":"y","t":4,"v":0.46},{"s":"y","t":4.2,"v":0.35},{"s":"y","t":4.4,"v":0.26},{"s":"y","t":4.6,"v":0.19},{"s":"y","t":4.8,"v":0.135},{"s":"y","t":5,"v":0.095},{"s":"y","t":5.3,"v":0.057},{"s":"y","t":5.6,"v":0.034},{"s":"y","t":6,"v":0.016},{"s":"y","t":6.5,"v":0.006},{"s":"y","t":7,"v":0.002},
{"s":"z","t":0,"v":0},{"s":"z","t":2,"v":0},{"s":"z","t":2.3,"v":0.019},{"s":"z","t":2.6,"v":0.088},{"s":"z","t":2.8,"v":0.22},{"s":"z","t":2.9,"v":0.33},{"s":"z","t":3,"v":0.44},{"s":"z","t":3.1,"v":0.52},{"s":"z","t":3.2,"v":0.57},{"s":"z","t":3.3,"v":0.6},{"s":"z","t":3.4,"v":0.61},{"s":"z","t":3.5,"v":0.62},{"s":"z","t":3.6,"v":0.62},{"s":"z","t":3.7,"v":0.59},{"s":"z","t":3.8,"v":0.54},{"s":"z","t":3.9,"v":0.48},{"s":"z","t":4,"v":0.42},{"s":"z","t":4.2,"v":0.32},{"s":"z","t":4.4,"v":0.24},{"s":"z","t":4.6,"v":0.17},{"s":"z","t":4.8,"v":0.125},{"s":"z","t":5,"v":0.088},{"s":"z","t":5.3,"v":0.053},{"s":"z","t":5.6,"v":0.032},{"s":"z","t":6,"v":0.015},{"s":"z","t":6.5,"v":0.006},{"s":"z","t":7,"v":0.002},{"s":"z","t":10,"v":0}
]},
"layer":[
{"data":{"name":"main"},
 "mark":{"type":"line","strokeWidth":1,"opacity":0.95,"clip":true},
 "encoding":{
  "x":{"field":"t","type":"quantitative","scale":{"domain":[0,10],"nice":false,"zero":false},
   "axis":{"orient":"bottom","values":[0,2,4,6,8,10],"tickSize":-3,"labelPadding":7,"title":"t","titleFont":"Liberation Serif","titleFontStyle":"italic","titleFontWeight":"normal","titleFontSize":11,"titleColor":"#333333","titlePadding":0}},
  "y":{"field":"v","type":"quantitative","scale":{"domain":[0,1],"nice":false},
   "axis":{"orient":"left","values":[0,0.1,0.2,0.3,0.4,0.5,0.6,0.7,0.8,0.9,1],"tickSize":-3,"labelPadding":7,"title":"Pc","titleFont":"Liberation Serif","titleFontStyle":"italic","titleFontWeight":"normal","titleFontSize":11,"titleColor":"#333333","titleAngle":0,"titleX":-21,"titleY":104,"titleAlign":"center","titleBaseline":"middle"}},
  "color":{"field":"s","type":"nominal","legend":null,
   "scale":{"domain":["A","B","C","D","E","F","G","H","I","J","K","L","M","N","a","b","c","d","e","f","g","h","i","j","k","l","m","n","o","p","q","r","s","t","u","v","w","x","y","z"],
   "range":["#20a040","#e08020","#2f4fcf","#8a2be2","#6a0dad","#a0e8c0","#d8d860","#4020b0","#e0c000","#3030e0","#c03cb0","#c0e080","#20b2aa","#70d0d0","#2424d8","#e8a020","#8a2be2","#1a9a3a","#ece21a","#5a10e0","#c0c070","#6b6b30","#e07030","#c83232","#3cb043","#90ee90","#b4f0a4","#9060d0","#1f9080","#0000c8","#d4a017","#6a0dad","#2424d8","#10107a","#e8a020","#b070e0","#4040c0","#9a9a5a","#40e0d0","#2a3a90"]}}
 }},
{"data":{"name":"frame"},
 "mark":{"type":"point","opacity":0},
 "encoding":{
  "x":{"field":"x0","type":"quantitative","scale":{"domain":[0,10],"nice":false,"zero":false},
   "axis":{"orient":"top","values":[0,2,4,6,8,10],"labels":false,"tickSize":-3,"domain":false,"title":null}},
  "y":{"field":"y0","type":"quantitative","scale":{"domain":[0,1],"nice":false},
   "axis":{"orient":"right","values":[0,0.1,0.2,0.3,0.4,0.5,0.6,0.7,0.8,0.9,1],"labels":false,"tickSize":-3,"domain":false,"title":null}}
 }},
{"layer":[
 {"data":{"name":"frame"},
  "mark":{"type":"rect","fill":"white","stroke":"#808080","strokeWidth":1},
  "encoding":{
   "x":{"field":"x0","type":"quantitative","scale":{"domain":[0,10],"nice":false,"zero":false,"range":[195,289]},
    "axis":{"orient":"bottom","offset":-152,"values":[0,5,10],"tickSize":-2,"labelPadding":6,"domain":false,"title":null}},
   "x2":{"field":"x1"},
   "y":{"field":"y0","type":"quantitative","scale":{"domain":[0,1],"nice":false,"range":[75,5]},
    "axis":{"orient":"left","offset":-195,"values":[0,0.5,1],"tickSize":-2,"labelPadding":6,"domain":false,"title":null}},
   "y2":{"field":"y1"}
  }},
 {"data":{"name":"mean"},
  "mark":{"type":"line","color":"black","strokeWidth":3},
  "encoding":{"x":{"field":"t","type":"quantitative"},"y":{"field":"v","type":"quantitative"}}},
 {"data":{"name":"red"},
  "mark":{"type":"line","color":"#d02020","strokeWidth":0.8},
  "encoding":{"x":{"field":"t","type":"quantitative"},"y":{"field":"v","type":"quantitative"}}}
 ]}
],
"resolve":{"scale":{"x":"independent","y":"independent"}}
}
